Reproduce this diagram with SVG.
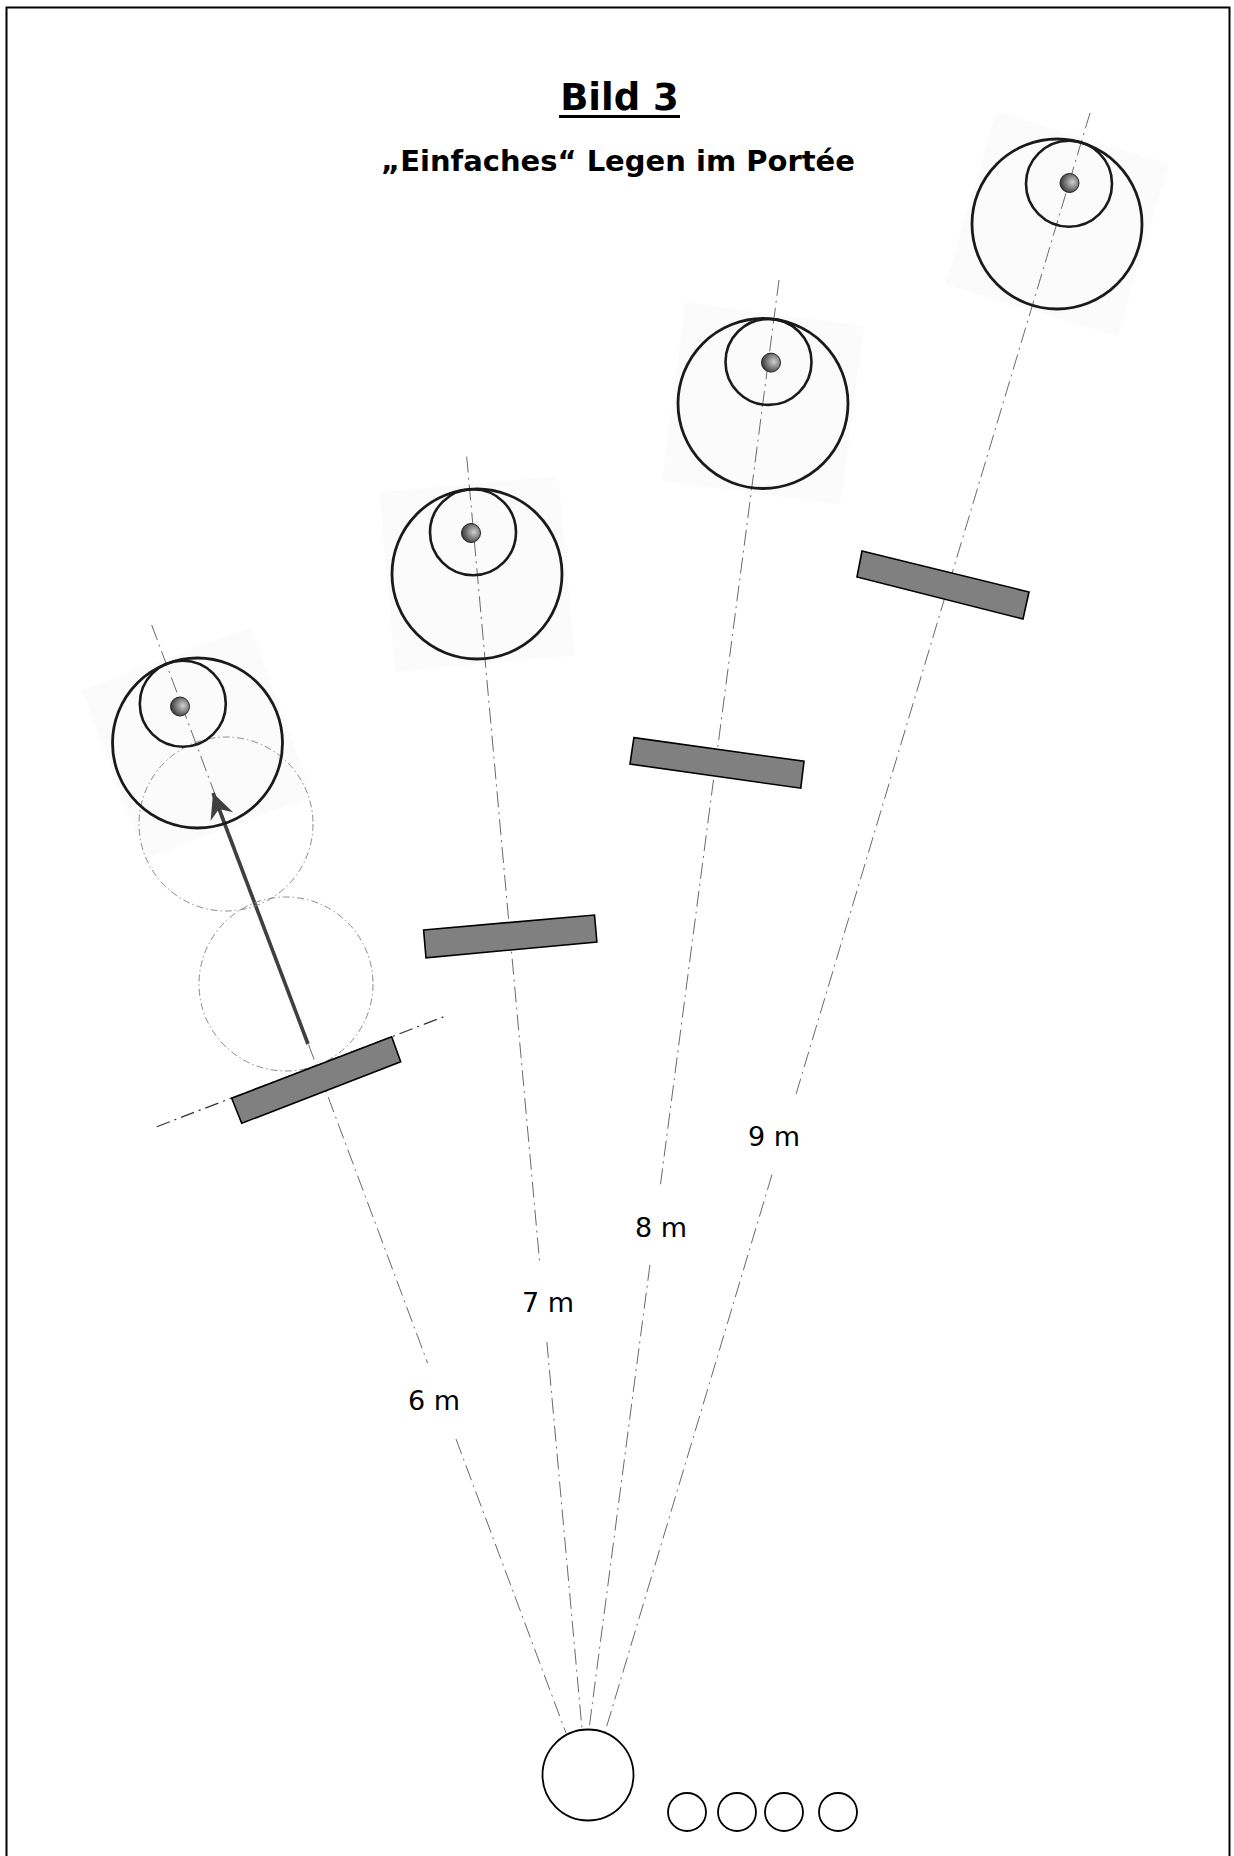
<svg xmlns="http://www.w3.org/2000/svg" width="1234" height="1856" viewBox="0 0 1234 1856">
<style>
.axis{fill:none;stroke:#6a6a6a;stroke-width:1;stroke-dasharray:16 5 2 5}
.cross{fill:none;stroke:#333;stroke-width:1.2;stroke-dasharray:14 5 2 5}
.ghost{fill:none;stroke:#8c8c8c;stroke-width:1;stroke-dasharray:7 3 1.5 3}
.bg{fill:#fbfbfb;stroke:none}
.big{fill:none;stroke:#1a1a1a;stroke-width:2.8}
.inner{fill:none;stroke:#1a1a1a;stroke-width:2.6}
.dot{fill:url(#dotg);stroke:#222;stroke-width:1}
.board{fill:#808080;stroke:#000;stroke-width:1.6}
.ball{fill:#fff;stroke:#000;stroke-width:1.8}
.lbl{font-family:"DejaVu Sans","Liberation Sans",sans-serif;font-size:27px;fill:#000;text-anchor:middle}
.title{font-family:"DejaVu Sans","Liberation Sans",sans-serif;font-weight:bold;fill:#000;text-anchor:middle}
</style>
<defs>
<radialGradient id="dotg" cx="0.65" cy="0.45" r="0.7">
<stop offset="0" stop-color="#d0d0d0"/>
<stop offset="1" stop-color="#2a2a2a"/>
</radialGradient>
<marker id="ah" markerUnits="userSpaceOnUse" orient="auto" overflow="visible" markerWidth="30" markerHeight="30" refX="0" refY="0">
<path d="M0,0 L-25,-12 L-17,0 L-25,12 Z" fill="#404040"/>
</marker>
</defs>
<rect x="6.5" y="7.5" width="1223" height="1860" fill="#fff" stroke="#000" stroke-width="2"/>
<g id="title">
<text class="title" x="619.5" y="110" font-size="37">Bild 3</text>
<rect x="559" y="115" width="121" height="3" fill="#000"/>
<text class="title" x="618" y="171" font-size="29">„Einfaches“ Legen im Portée</text>
</g>
<g id="target-backgrounds">
<rect class="bg" x="-90" y="-90" width="180" height="180" transform="translate(197.5,743) rotate(-20.5)"/>
<rect class="bg" x="-90" y="-90" width="180" height="180" transform="translate(477,574) rotate(-5.2)"/>
<rect class="bg" x="-90" y="-90" width="180" height="180" transform="translate(763,403.5) rotate(7.5)"/>
<rect class="bg" x="-90" y="-90" width="180" height="180" transform="translate(1057,224) rotate(16.7)"/>
</g>
<g id="connectors">
<line class="axis" x1="151.7" y1="625" x2="427.6" y2="1363"/>
<line class="axis" x1="456" y1="1439" x2="566" y2="1733"/>
<line class="axis" x1="466.7" y1="456.7" x2="539.8" y2="1264"/>
<line class="axis" x1="546.9" y1="1342" x2="582" y2="1729"/>
<line class="axis" x1="779" y1="280" x2="660" y2="1188"/>
<line class="axis" x1="649.9" y1="1265" x2="589" y2="1729"/>
<line class="axis" x1="1090" y1="113" x2="795.2" y2="1097"/>
<line class="axis" x1="772" y1="1174.5" x2="605" y2="1732"/>
<line class="cross" x1="156.7" y1="1126.7" x2="445.7" y2="1016"/>
<line x1="308" y1="1044" x2="213" y2="793" stroke="#404040" stroke-width="3.6" marker-end="url(#ah)"/>
</g>
<g id="ghost-positions">
<circle class="ghost" cx="226" cy="824" r="87"/>
<circle class="ghost" cx="286" cy="984" r="87"/>
</g>
<g id="target-6m">
<circle class="big" cx="197.5" cy="743" r="85"/>
<circle class="inner" cx="182.8" cy="703.7" r="43"/>
<circle class="dot" cx="180" cy="706.5" r="9.5"/>
</g>
<g id="target-7m">
<circle class="big" cx="477" cy="574" r="85"/>
<circle class="inner" cx="473" cy="532.2" r="43"/>
<circle class="dot" cx="471" cy="533" r="9.5"/>
</g>
<g id="target-8m">
<circle class="big" cx="763" cy="403.5" r="85"/>
<circle class="inner" cx="768.5" cy="361.9" r="43"/>
<circle class="dot" cx="771" cy="362.6" r="9.5"/>
</g>
<g id="target-9m">
<circle class="big" cx="1057" cy="224" r="85"/>
<circle class="inner" cx="1069" cy="183.8" r="43"/>
<circle class="dot" cx="1069.5" cy="183" r="9.5"/>
</g>
<g id="board-6m"><polygon class="board" points="231.7,1098.3 391.7,1036.7 400.7,1061.7 241.7,1123.3"/></g>
<g id="board-7m"><polygon class="board" points="423.6,930 594.5,915 596.9,942 426,957.8"/></g>
<g id="board-8m"><polygon class="board" points="633.9,737.6 804,761.3 800.8,788.2 630,764"/></g>
<g id="board-9m"><polygon class="board" points="862,551 1029,592 1023,619 857,577"/></g>
<g id="labels">
<text class="lbl" x="434" y="1410">6 m</text>
<text class="lbl" x="548" y="1312">7 m</text>
<text class="lbl" x="661" y="1237">8 m</text>
<text class="lbl" x="774" y="1146">9 m</text>
</g>
<g id="player">
<circle class="ball" cx="588" cy="1775" r="45.5"/>
</g>
<g id="spare-balls">
<circle class="ball" cx="687" cy="1812" r="19"/>
<circle class="ball" cx="737" cy="1812" r="19"/>
<circle class="ball" cx="784" cy="1812" r="19"/>
<circle class="ball" cx="838" cy="1812" r="19"/>
</g>
</svg>
